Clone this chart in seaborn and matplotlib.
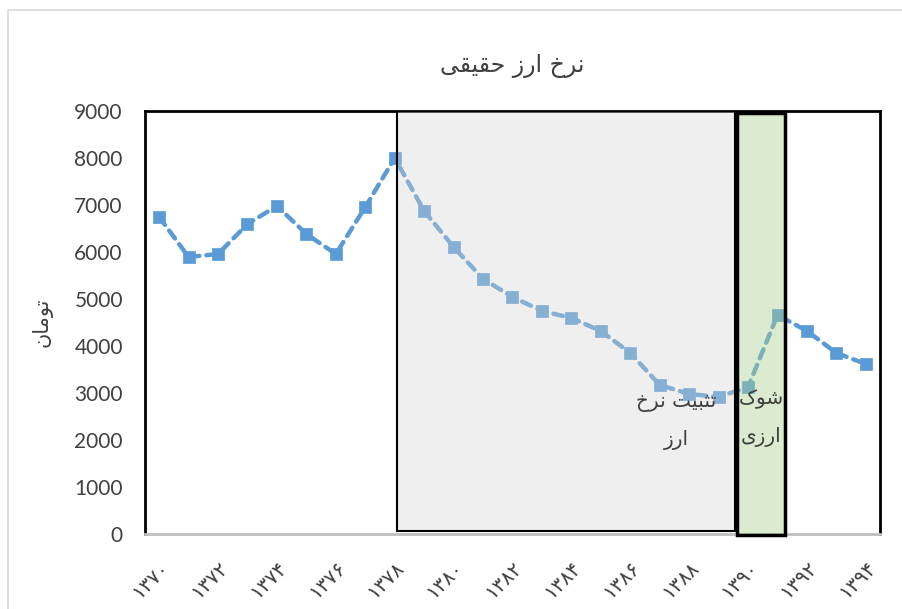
import numpy as np
import pandas as pd
import matplotlib
matplotlib.use('Agg')
import matplotlib.pyplot as plt
import matplotlib.patches as patches
import seaborn as sns

# سال ها و نرخ ارز حقیقی (تومان)
years = list(range(1370, 1395))
values = [6745, 5894, 5957, 6596, 6979, 6383, 5957, 6957, 8000, 6872,
          6106, 5426, 5043, 4745, 4596, 4319, 3851, 3170, 2979, 2915,
          3128, 4660, 4319, 3851, 3617]
tick_years = list(range(1370, 1395, 2))
y_ticks = list(range(0, 9001, 1000))

# شکل دهی ساده حروف فارسی (matplotlib شکل دهی عربی ندارد)
FORMS = {
    'ا': ('\uFE8D', '\uFE8E', None, None),
    'ب': ('\uFE8F', '\uFE90', '\uFE91', '\uFE92'),
    'ت': ('\uFE95', '\uFE96', '\uFE97', '\uFE98'),
    'ث': ('\uFE99', '\uFE9A', '\uFE9B', '\uFE9C'),
    'ح': ('\uFEA1', '\uFEA2', '\uFEA3', '\uFEA4'),
    'خ': ('\uFEA5', '\uFEA6', '\uFEA7', '\uFEA8'),
    'ر': ('\uFEAD', '\uFEAE', None, None),
    'ز': ('\uFEAF', '\uFEB0', None, None),
    'ش': ('\uFEB5', '\uFEB6', '\uFEB7', '\uFEB8'),
    'ق': ('\uFED5', '\uFED6', '\uFED7', '\uFED8'),
    'م': ('\uFEE1', '\uFEE2', '\uFEE3', '\uFEE4'),
    'ن': ('\uFEE5', '\uFEE6', '\uFEE7', '\uFEE8'),
    'و': ('\uFEED', '\uFEEE', None, None),
    'ک': ('\uFB8E', '\uFB8F', '\uFB90', '\uFB91'),
    'ی': ('\uFBFC', '\uFBFD', '\uFBFE', '\uFBFF'),
}


def fa(text):
    out_lines = []
    for line in text.split('\n'):
        chars = list(line)
        shaped = []
        for i, c in enumerate(chars):
            if c not in FORMS:
                shaped.append(c)
                continue
            prev = chars[i - 1] if i > 0 else None
            nxt = chars[i + 1] if i + 1 < len(chars) else None
            join_prev = prev in FORMS and FORMS[prev][2] is not None
            join_next = nxt in FORMS and FORMS[c][2] is not None
            iso, fin, ini, med = FORMS[c]
            if join_prev and join_next:
                shaped.append(med)
            elif join_prev:
                shaped.append(fin)
            elif join_next:
                shaped.append(ini)
            else:
                shaped.append(iso)
        out_lines.append(''.join(reversed(shaped)))
    return '\n'.join(out_lines)


def fa_digits(n):
    return str(n).translate(str.maketrans('0123456789', '۰۱۲۳۴۵۶۷۸۹'))


df = pd.DataFrame({'year': years, 'value': values})

sns.set_style('white')
plt.rcParams['font.family'] = ['Lato', 'DejaVu Sans']

fig = plt.figure(figsize=(9.03, 6.09), dpi=100)
ax = fig.add_axes([0.1606, 0.1232, 0.8139, 0.6945])

blue = '#5B9BD5'
sns.lineplot(data=df, x='year', y='value', ax=ax, color=blue, linewidth=3.2,
             linestyle=(0, (2.2, 1.6)), marker='s', markersize=8,
             markeredgecolor=blue, markeredgewidth=0.5, zorder=3)
for l in ax.lines:
    l.set_dash_capstyle('round')

ax.set_xlim(1369.52, 1394.48)
ax.set_ylim(0, 9000)
ax.set_yticks(y_ticks)
ax.set_yticklabels([str(v) for v in y_ticks], fontsize=15, color='#404040')
ax.set_xticks(tick_years)
ax.set_xticklabels([fa_digits(y) for y in tick_years], rotation=45, ha='right',
                   rotation_mode='anchor', fontsize=14.5, color='#404040',
                   family='DejaVu Sans')
ax.tick_params(axis='y', length=0, pad=16)
ax.tick_params(axis='x', length=0, pad=17)
ax.set_xlabel('')
ax.set_ylabel(fa('تومان'), fontsize=15, color='#404040', family='DejaVu Sans',
              labelpad=16)
ax.set_title(fa('نرخ ارز حقیقی'), fontsize=17, color='#404040',
             family='DejaVu Sans', pad=28)

for side in ['left', 'top', 'right']:
    ax.spines[side].set_color('black')
    ax.spines[side].set_linewidth(2)
ax.spines['bottom'].set_color('#BFBFBF')
ax.spines['bottom'].set_linewidth(2)

# دوره تثبیت نرخ ارز
ax.add_patch(patches.Rectangle((1378.08, 60), 1389.55 - 1378.08, 8940,
                               facecolor='#D4D4D4', alpha=0.36, edgecolor='none',
                               zorder=4))
ax.add_patch(patches.Rectangle((1378.08, 60), 1389.55 - 1378.08, 8940,
                               facecolor='none', edgecolor='black', linewidth=1.5,
                               zorder=5))
# شوک ارزی
ax.add_patch(patches.Rectangle((1389.62, -20), 1391.25 - 1389.62, 8980,
                               facecolor='#A9D08E', alpha=0.42, edgecolor='none',
                               zorder=4, clip_on=False))
ax.add_patch(patches.Rectangle((1389.62, -20), 1391.25 - 1389.62, 8980,
                               facecolor='none', edgecolor='black', linewidth=2.5,
                               zorder=5, clip_on=False))

ax.text(1387.55, 3000, fa('تثبیت نرخ\nارز'), ha='center', va='top', fontsize=14.5,
        color='#404040', family='DejaVu Sans', linespacing=2.2, zorder=6)
ax.text(1390.45, 3080, fa('شوک\nارزی'), ha='center', va='top', fontsize=14.5,
        color='#404040', family='DejaVu Sans', linespacing=2.2, zorder=6)

fig.patches.append(patches.Rectangle((0.009, -0.01), 1.0, 0.994,
                                     transform=fig.transFigure, fill=False,
                                     edgecolor='#D9D9D9', linewidth=1.2))

fig.savefig('out.png', dpi=100)
